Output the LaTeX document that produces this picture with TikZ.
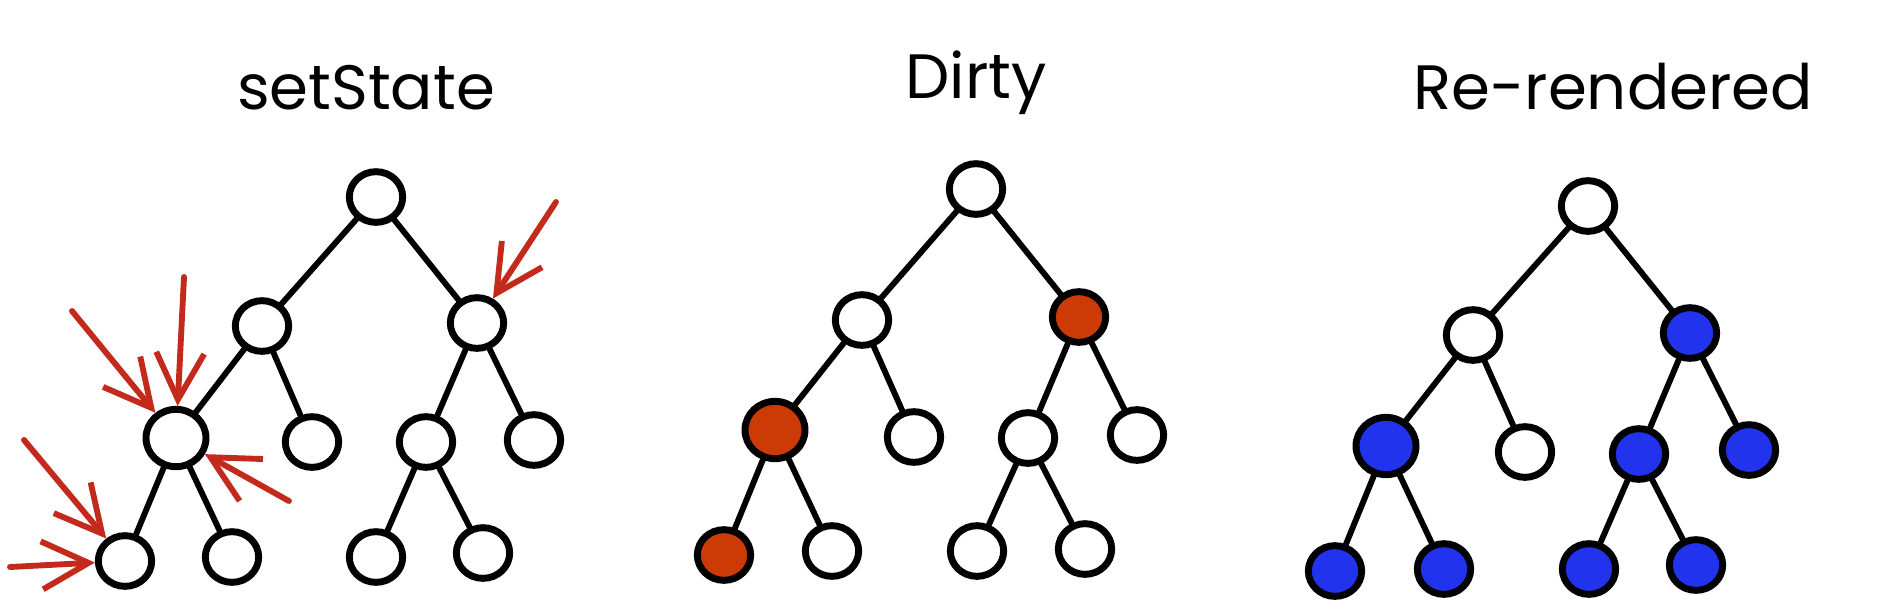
\documentclass[tikz,border=0pt]{standalone}
\usepackage{fontspec}
\setmainfont{Poppins}
\usetikzlibrary{arrows.meta,shapes.geometric}
\definecolor{dirtyred}{HTML}{CC3A06}
\definecolor{renderblue}{HTML}{2233EE}
\definecolor{arrowred}{HTML}{C42A1C}
\begin{document}
\begin{tikzpicture}[x=0.75pt, y=-0.75pt,
    vtx/.style={draw, ellipse, line width=5.2pt, fill=white, inner sep=0pt, minimum width=40pt, minimum height=38pt},
    big/.style={minimum width=45pt, minimum height=43pt},
    dirty/.style={fill=dirtyred},
    redone/.style={fill=renderblue},
    edge/.style={line width=4.4pt, line cap=round},
    hit/.style={draw=arrowred, line width=4.4pt, line cap=round, -{Straight Barb[length=35pt, width=36pt, line width=4.4pt]}},
    title/.style={font=\fontsize{47}{54}\selectfont, anchor=base}]
    \useasboundingbox (0,0) rectangle (1886,612);

    % setState
    \node[title] (ttl1) at (366,109) {setState};
    \node[vtx] (s) at (376,197) {};
    \node[vtx] (sl) at (262,326) {};
    \node[vtx] (sr) at (477,323) {};
    \node[vtx, big] (sll) at (176,438) {};
    \node[vtx] (slr) at (312,442) {};
    \node[vtx] (srl) at (426,442) {};
    \node[vtx] (srr) at (534,440) {};
    \node[vtx] (slll) at (125,561) {};
    \node[vtx] (sllr) at (232,557) {};
    \node[vtx] (srll) at (376,557) {};
    \node[vtx] (srlr) at (483,553) {};

    % Dirty
    \node[title] (ttl2) at (976,98) {Dirty};
    \node[vtx] (d) at (976,189) {};
    \node[vtx] (dl) at (862,320) {};
    \node[vtx, dirty] (dr) at (1079,317) {};
    \node[vtx, big, dirty] (dll) at (775,430) {};
    \node[vtx] (dlr) at (914,437) {};
    \node[vtx] (drl) at (1028,438) {};
    \node[vtx] (drr) at (1137,435) {};
    \node[vtx, dirty] (dlll) at (724,555) {};
    \node[vtx] (dllr) at (832,551) {};
    \node[vtx] (drll) at (977,551) {};
    \node[vtx] (drlr) at (1085,549) {};

    % Re-rendered
    \node[title] (ttl3) at (1613,109) {Re-rendered};
    \node[vtx] (r) at (1588,206) {};
    \node[vtx] (rl) at (1473,335) {};
    \node[vtx, redone] (rr) at (1690,333) {};
    \node[vtx, big, redone] (rll) at (1386,446) {};
    \node[vtx] (rlr) at (1525,452) {};
    \node[vtx, redone] (rrl) at (1639,454) {};
    \node[vtx, redone] (rrr) at (1749,450) {};
    \node[vtx, redone] (rlll) at (1335,571) {};
    \node[vtx, redone] (rllr) at (1444,569) {};
    \node[vtx, redone] (rrll) at (1589,569) {};
    \node[vtx, redone] (rrlr) at (1696,565) {};

    \draw[edge] (s) -- (sl);   \draw[edge] (s) -- (sr);
    \draw[edge] (sl) -- (sll); \draw[edge] (sl) -- (slr);
    \draw[edge] (sr) -- (srl); \draw[edge] (sr) -- (srr);
    \draw[edge] (sll) -- (slll); \draw[edge] (sll) -- (sllr);
    \draw[edge] (srl) -- (srll); \draw[edge] (srl) -- (srlr);

    \draw[edge] (d) -- (dl);   \draw[edge] (d) -- (dr);
    \draw[edge] (dl) -- (dll); \draw[edge] (dl) -- (dlr);
    \draw[edge] (dr) -- (drl); \draw[edge] (dr) -- (drr);
    \draw[edge] (dll) -- (dlll); \draw[edge] (dll) -- (dllr);
    \draw[edge] (drl) -- (drll); \draw[edge] (drl) -- (drlr);

    \draw[edge] (r) -- (rl);   \draw[edge] (r) -- (rr);
    \draw[edge] (rl) -- (rll); \draw[edge] (rl) -- (rlr);
    \draw[edge] (rr) -- (rrl); \draw[edge] (rr) -- (rrr);
    \draw[edge] (rll) -- (rlll); \draw[edge] (rll) -- (rllr);
    \draw[edge] (rrl) -- (rrll); \draw[edge] (rrl) -- (rrlr);

    % setState calls
    \coordinate (c1) at (556,202);
    \coordinate (c2) at (72,311);
    \coordinate (c3) at (184,277);
    \coordinate (c4) at (289,501);
    \coordinate (c5) at (24,440);
    \coordinate (c6) at (10,567);
    \draw[hit] (c1) -- (sr);
    \draw[hit] (c2) -- (sll);
    \draw[hit] (c3) -- (sll);
    \draw[hit] (c4) -- (sll);
    \draw[hit] (c5) -- (slll);
    \draw[hit] (c6) -- (slll);
\end{tikzpicture}
\end{document}
